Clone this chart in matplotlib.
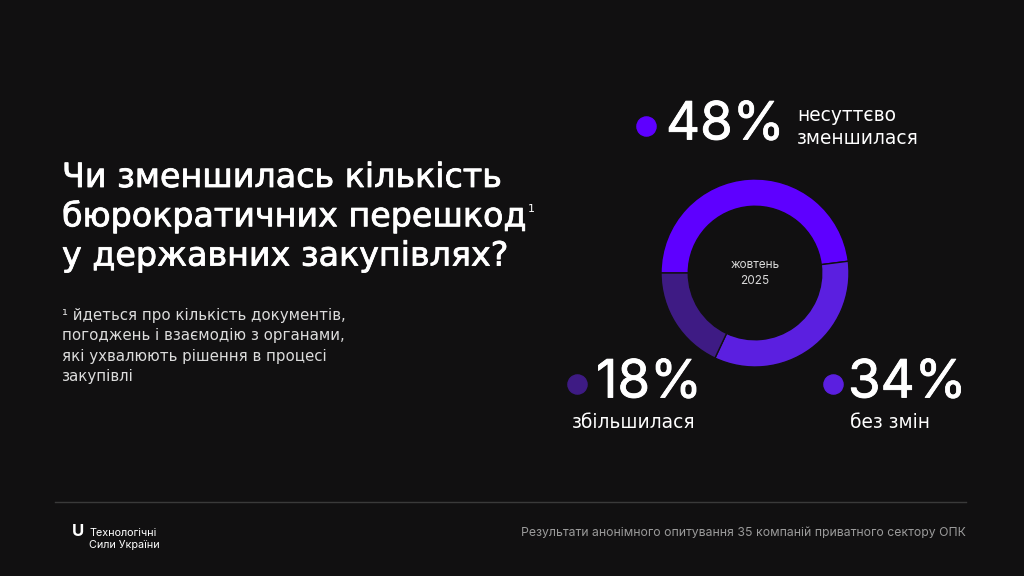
import matplotlib
matplotlib.use('Agg')
import matplotlib.pyplot as plt
import matplotlib.patheffects as pe

plt.rcParams['font.family'] = ['Inter', 'DejaVu Sans']

# data
shares = [48, 34, 18]
labels = ['несуттєво\nзменшилася', 'без змін', 'збільшилася']
colors = ['#5e00ff', '#5b1fe0', '#3e1b84']
centre_label = 'жовтень\n2025'

title_lines = ['Чи зменшилась кількість',
               'бюрократичних перешкод',
               'у державних закупівлях?']
note = ('¹ йдеться про кількість документів,\n'
        'погоджень і взаємодію з органами,\n'
        'які ухвалюють рішення в процесі\n'
        'закупівлі')
source = 'Результати анонімного опитування 35 компаній приватного сектору ОПК'
brand = 'Технологічні\nСили України'

BG = '#111011'
W, H = 1024, 576
WIDE = ['DejaVu Sans']
heavy = [pe.withStroke(linewidth=0.6, foreground='white')]

fig = plt.figure(figsize=(W / 100, H / 100), dpi=100, facecolor=BG)

# full-figure axes in pixel coordinates (y downwards)
lay = fig.add_axes([0, 0, 1, 1])
lay.set_xlim(0, W)
lay.set_ylim(H, 0)
lay.axis('off')

# donut
cx, cy, r = 755, 273, 94
dax = fig.add_axes([(cx - r) / W, (H - cy - r) / H, 2 * r / W, 2 * r / H])
dax.pie(shares, colors=colors, startangle=180, counterclock=False,
        wedgeprops=dict(width=0.29, edgecolor=BG, linewidth=1))
dax.set_xlim(-1, 1)
dax.set_ylim(-1, 1)
dax.set_aspect('equal')
dax.text(0, 0, centre_label, ha='center', va='center', color='#d8d8d8',
         fontsize=8.5, linespacing=1.5)

# title
for i, line in enumerate(title_lines):
    t = lay.text(62, 187 + i * 39.3, line, color='white', fontsize=24,
                 family=WIDE, va='baseline', ha='left', path_effects=heavy)
    if i == 1:
        fig.canvas.draw()
        bb = t.get_window_extent()
        lay.text(bb.x1 + 1, 212, '1', color='white', fontsize=8,
                 family=WIDE, va='baseline', ha='left')

lay.text(62, 346, note, color='#dcdcdc', fontsize=10.8, family=WIDE,
         va='center', ha='left', linespacing=1.45)

# value callouts
callouts = [
    dict(dot=(646, 126), num=(666, 126), lab=(797, 127)),
    dict(dot=(833, 384), num=(848, 384), lab=(850, 423)),
    dict(dot=(577, 384), num=(596, 384), lab=(572, 423)),
]
for val, lab, col, c in zip(shares, labels, colors, callouts):
    lay.scatter(*c['dot'], s=190, color=col, zorder=3)
    lay.text(*c['num'], f'{val}%', color='white', fontsize=38,
             va='center', ha='left', path_effects=heavy)
    lay.text(*c['lab'], lab, color='white', fontsize=13.4, family=WIDE,
             va='center', ha='left', linespacing=1.3)

# footer
lay.plot([55, 966], [502, 502], color='#3a3a3a', lw=1)
lay.text(72, 532, 'U', color='white', fontsize=12, fontweight='bold',
         va='center', ha='left')
lay.text(89, 539, brand, color='white', fontsize=7.8, va='center',
         ha='left', linespacing=1.35)
lay.text(966, 533, source, color='#9a9a9a', fontsize=8.8, va='center',
         ha='right')

fig.savefig('out.png', dpi=100, facecolor=BG)
